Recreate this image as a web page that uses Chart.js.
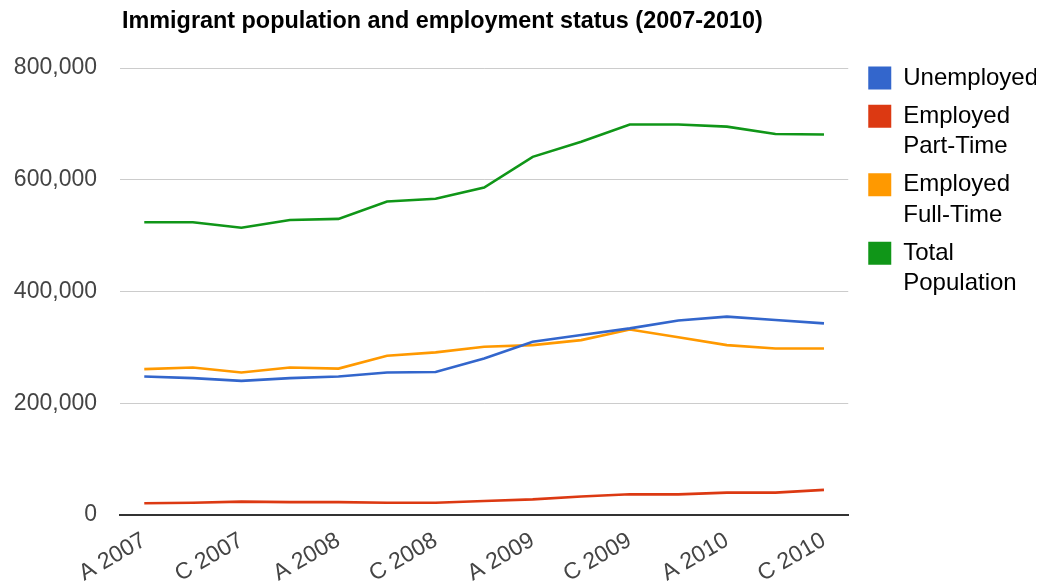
<!DOCTYPE html>
<html>
<head>
<meta charset="utf-8">
<script src="https://cdn.jsdelivr.net/npm/chart.js@4"></script>
<style>
    html, body { margin: 0; padding: 0; background: #fff; }
    #wrap { position: relative; width: 1049px; height: 586px; }
    #title {
        position: absolute; left: 122px; top: 9px;
        font: bold 23.4px "Liberation Sans", Arial, sans-serif;
        line-height: 1; color: #000; white-space: nowrap;
    }
</style>
</head>
<body>
<div id="wrap">
    <div id="title">Immigrant population and employment status (2007-2010)</div>
    <canvas id="popChart" width="1049" height="586"></canvas>
</div>
<script>
const quarters = [
    'A 2007', 'B 2007', 'C 2007', 'D 2007',
    'A 2008', 'B 2008', 'C 2008', 'D 2008',
    'A 2009', 'B 2009', 'C 2009', 'D 2009',
    'A 2010', 'B 2010', 'C 2010'
];
const unemployed = [248000, 245000, 240000, 245000, 248000, 255000, 256000, 280000, 310000, 322000, 334000, 348000, 355000, 349000, 343000];
const partTime   = [21000, 22000, 24000, 23000, 23000, 22000, 22000, 25000, 28000, 33000, 37000, 37000, 40000, 40000, 45000];
const fullTime   = [261000, 264000, 255000, 264000, 262000, 285000, 291000, 301000, 304000, 313000, 332000, 318000, 304000, 298000, 298000];
const totalPop   = [524000, 524000, 514000, 528000, 530000, 561000, 566000, 586000, 641000, 668000, 699000, 699000, 695000, 682000, 681000];
const yTicks = [0, 200000, 400000, 600000, 800000];
const legendLines = [['Unemployed'], ['Employed', 'Part-Time'], ['Employed', 'Full-Time'], ['Total', 'Population']];
const seriesColors = ['#3366cc', '#dc3912', '#ff9900', '#109618'];

const ctx = document.getElementById('popChart').getContext('2d');
const fontFamily = '"Liberation Sans", Arial, sans-serif';

// move the legend up/right a bit so it lines up with the original
const legendNudge = {
    id: 'legendNudge',
    afterLayout(chart) {
        chart.legend.top = chart.chartArea.top - 10;
        chart.legend.left = chart.chartArea.right + 12;
    }
};

function makeLine(values, i) {
    return {
        label: legendLines[i].join(' '),
        data: values,
        borderColor: seriesColors[i],
        backgroundColor: seriesColors[i],
        borderWidth: 2.6,
        pointRadius: 0,
        tension: 0,
        fill: false
    };
}

new Chart(ctx, {
    type: 'line',
    data: {
        labels: quarters,
        datasets: [unemployed, partTime, fullTime, totalPop].map(makeLine)
    },
    options: {
        responsive: false,
        animation: false,
        layout: { padding: { top: 68, right: 13, bottom: 0, left: 0 } },
        plugins: {
            tooltip: { enabled: false },
            title: { display: false },
            legend: {
                position: 'right',
                align: 'start',
                labels: {
                    boxWidth: 23,
                    boxHeight: 23,
                    padding: 8,
                    color: '#222',
                    font: { family: fontFamily, size: 24, lineHeight: 1.26 },
                    generateLabels: chart => chart.data.datasets.map((ds, i) => ({
                        text: legendLines[i],
                        fillStyle: ds.borderColor,
                        strokeStyle: ds.borderColor,
                        lineWidth: 0,
                        hidden: false,
                        datasetIndex: i
                    }))
                }
            }
        },
        scales: {
            x: {
                offset: true,
                grid: { display: false, drawTicks: false },
                border: { display: true, color: '#333', width: 2 },
                afterFit: scale => { scale.height = 71; },
                ticks: {
                    autoSkip: false,
                    maxRotation: 30,
                    minRotation: 30,
                    padding: 12,
                    color: '#444',
                    font: { family: fontFamily, size: 23 },
                    callback: function (value, index) {
                        return index % 2 === 0 ? this.getLabelForValue(value) : '';
                    }
                }
            },
            y: {
                min: 0,
                max: 800000,
                afterFit: scale => { scale.width = 120; },
                afterBuildTicks: scale => { scale.ticks = yTicks.map(v => ({ value: v })); },
                grid: { color: '#cccccc', lineWidth: 1, drawTicks: false },
                border: { display: false },
                ticks: {
                    padding: 23,
                    color: '#444',
                    font: { family: fontFamily, size: 23 },
                    callback: value => value.toLocaleString('en-US')
                }
            }
        }
    },
    plugins: [legendNudge]
});
</script>
</body>
</html>
